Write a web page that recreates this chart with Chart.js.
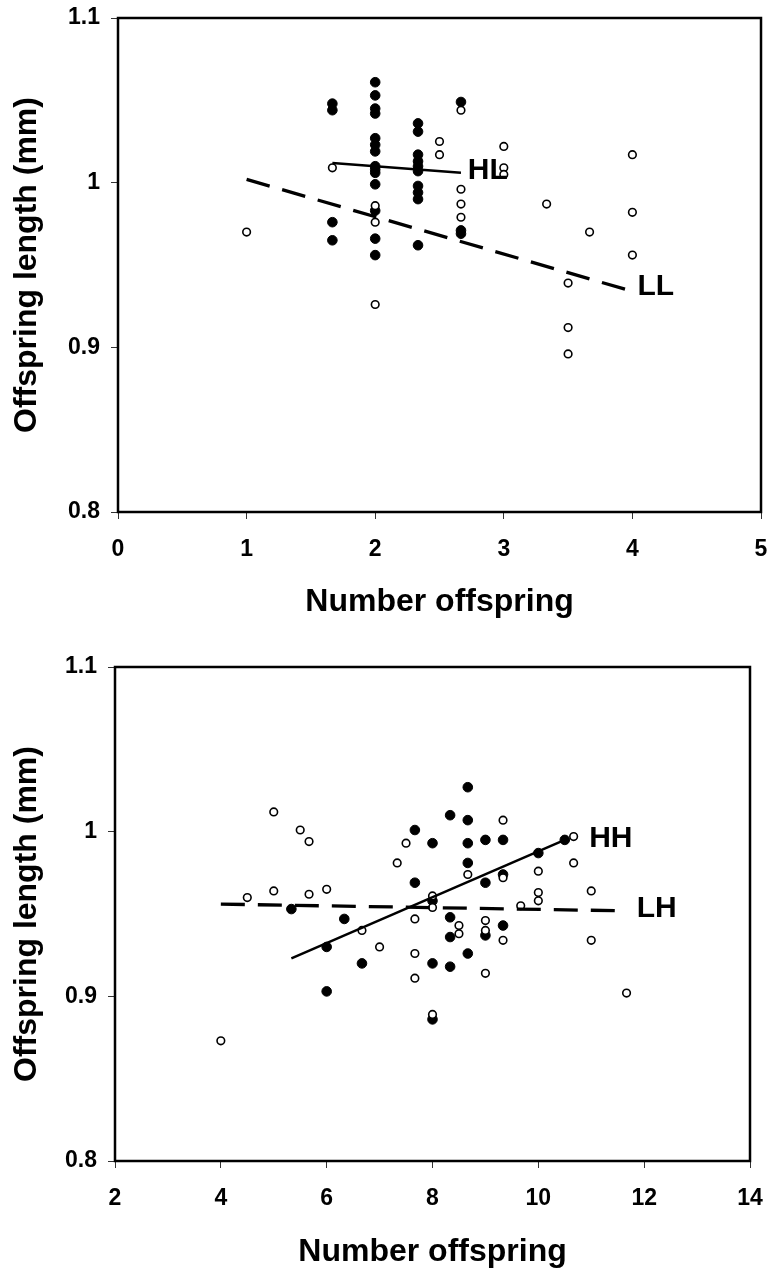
<!DOCTYPE html>
<html>
<head>
<meta charset="utf-8">
<script src="https://cdn.jsdelivr.net/npm/chart.js@4"></script>
<style>
  body { margin: 0; background: #fff; }
  canvas { display: block; }
</style>
</head>
<body>
<canvas id="chartTop" width="770" height="640"></canvas>
<canvas id="chartBottom" width="770" height="635"></canvas>
<script>
// top panel: LL (open circles) and HL (filled circles)
const llX = [1, 1.667, 2, 2, 2, 2.5, 2.5, 2.667, 2.667, 2.667, 2.667, 3, 3, 3, 3.333, 3.5, 3.5, 3.5, 3.667, 4, 4, 4];
const llY = [0.970, 1.009, 0.986, 0.976, 0.926, 1.025, 1.017, 1.044, 0.996, 0.987, 0.979, 1.022, 1.009, 1.005, 0.987, 0.939, 0.912, 0.896, 0.970, 1.017, 0.982, 0.956];

const hlX = [1.667, 1.667, 1.667, 1.667,
  2, 2, 2, 2, 2, 2, 2, 2, 2, 2, 2, 2, 2, 2,
  2.333, 2.333, 2.333, 2.333, 2.333, 2.333, 2.333, 2.333, 2.333, 2.333,
  2.667, 2.667, 2.667];
const hlY = [1.048, 1.044, 0.976, 0.965,
  1.061, 1.053, 1.045, 1.042, 1.027, 1.023, 1.019, 1.010, 1.008, 1.006, 0.999, 0.983, 0.966, 0.956,
  1.036, 1.031, 1.017, 1.013, 1.010, 1.007, 0.998, 0.994, 0.990, 0.962,
  1.049, 0.971, 0.969];

const hlFitX = [1.667, 2.667];
const hlFitY = [1.012, 1.006];
const llFitX = [1, 4];
const llFitY = [1.002, 0.934];

// bottom panel: LH (open circles) and HH (filled circles)
const lhX = [4, 4.5, 5, 5, 5.5, 5.667, 5.667, 6, 6.667, 7, 7.333, 7.5, 7.667, 7.667, 7.667, 8, 8, 8,
  8.5, 8.5, 8.667, 9, 9, 9, 9.333, 9.333, 9.333, 9.667, 10, 10, 10, 10.667, 10.667, 11, 11, 11.667];
const lhY = [0.873, 0.960, 1.012, 0.964, 1.001, 0.994, 0.962, 0.965, 0.940, 0.930, 0.981, 0.993, 0.947, 0.926, 0.911, 0.961, 0.954, 0.889,
  0.943, 0.938, 0.974, 0.946, 0.940, 0.914, 1.007, 0.972, 0.934, 0.955, 0.976, 0.963, 0.958, 0.997, 0.981, 0.964, 0.934, 0.902];

const hhX = [5.333, 6, 6, 6.333, 6.667, 7.667, 7.667, 8, 8, 8, 8, 8.333, 8.333, 8.333, 8.333,
  8.667, 8.667, 8.667, 8.667, 8.667, 9, 9, 9, 9.333, 9.333, 9.333, 10, 10.5];
const hhY = [0.953, 0.930, 0.903, 0.947, 0.920, 1.001, 0.969, 0.993, 0.958, 0.920, 0.886, 1.010, 0.948, 0.936, 0.918,
  1.027, 1.007, 0.993, 0.981, 0.926, 0.995, 0.969, 0.937, 0.995, 0.974, 0.943, 0.987, 0.995];

const hhFitX = [5.333, 10.5];
const hhFitY = [0.923, 0.995];
const lhFitX = [4, 11.5];
const lhFitY = [0.956, 0.952];

const FONT = "'Liberation Sans', Arial, sans-serif";

function pts(xs, ys) {
  return xs.map((x, i) => ({ x: x, y: ys[i] }));
}

// plot frame plus the series names next to the fitted lines
const framePlugin = {
  id: 'frame',
  beforeDatasetsDraw(chart) {
    const { ctx, chartArea: a } = chart;
    ctx.save();
    ctx.lineWidth = 2.5;
    ctx.strokeStyle = '#000';
    ctx.strokeRect(a.left, a.top, a.right - a.left, a.bottom - a.top);
    ctx.restore();
  },
  afterDatasetsDraw(chart, args, opts) {
    const { ctx, scales } = chart;
    ctx.save();
    ctx.font = 'bold 30px ' + FONT;
    ctx.fillStyle = '#000';
    ctx.textBaseline = 'middle';
    (opts.labels || []).forEach(l => {
      ctx.fillText(l.text, scales.x.getPixelForValue(l.x), scales.y.getPixelForValue(l.y));
    });
    ctx.restore();
  }
};

function makeChart(id, c) {
  new Chart(document.getElementById(id), {
    type: 'scatter',
    data: {
      datasets: [
        { data: pts(c.solidX, c.solidY), showLine: true, borderColor: '#000', borderWidth: 2.5, pointRadius: 0 },
        { data: pts(c.dashX, c.dashY), showLine: true, borderColor: '#000', borderWidth: 3.3, borderDash: [24, 13], pointRadius: 0 },
        { data: pts(c.openX, c.openY), pointRadius: 3.8, borderWidth: 1.6, borderColor: '#000', backgroundColor: '#fff' },
        { data: pts(c.fillX, c.fillY), pointRadius: 4.8, borderWidth: 1, borderColor: '#000', backgroundColor: '#000' }
      ]
    },
    options: {
      responsive: false,
      animation: false,
      events: [],
      layout: { padding: { top: c.padTop, right: c.padRight, left: 0, bottom: 0 } },
      plugins: {
        legend: { display: false },
        tooltip: { enabled: false },
        frame: { labels: c.labels }
      },
      scales: {
        x: {
          type: 'linear', min: c.xMin, max: c.xMax,
          ticks: { stepSize: c.xStep, color: '#000', padding: 17, font: { family: FONT, size: 23, weight: 'bold' } },
          grid: { drawOnChartArea: false, tickLength: 7, color: '#333' },
          border: { display: false },
          title: { display: true, text: 'Number offspring', color: '#000', padding: { top: 0, bottom: c.xTitlePad }, font: { family: FONT, size: 32, weight: 'bold' } },
          afterFit(s) { s.height = c.xAxisH; s.paddingLeft = 0; s.paddingRight = 0; }
        },
        y: {
          type: 'linear', min: 0.8, max: 1.1,
          ticks: { stepSize: 0.1, color: '#000', padding: 11, font: { family: FONT, size: 23, weight: 'bold' },
            callback: v => String(Number(v.toFixed(2))) },
          grid: { drawOnChartArea: false, tickLength: 7, color: '#333' },
          border: { display: false },
          title: { display: true, text: 'Offspring length (mm)', color: '#000', padding: { top: 8, bottom: 0 }, font: { family: FONT, size: 32, weight: 'bold' } },
          afterFit(s) { s.width = c.yAxisW; s.paddingTop = 0; s.paddingBottom = 0; }
        }
      }
    },
    plugins: [framePlugin]
  });
}

makeChart('chartTop', {
  solidX: hlFitX, solidY: hlFitY, dashX: llFitX, dashY: llFitY,
  openX: llX, openY: llY, fillX: hlX, fillY: hlY,
  xMin: 0, xMax: 5, xStep: 1,
  padTop: 18, padRight: 9, xAxisH: 128, yAxisW: 118, xTitlePad: 19,
  labels: [{ text: 'HL', x: 2.72, y: 1.007 }, { text: 'LL', x: 4.04, y: 0.937 }]
});

makeChart('chartBottom', {
  solidX: hhFitX, solidY: hhFitY, dashX: lhFitX, dashY: lhFitY,
  openX: lhX, openY: lhY, fillX: hhX, fillY: hhY,
  xMin: 2, xMax: 14, xStep: 2,
  padTop: 27, padRight: 20, xAxisH: 114, yAxisW: 115, xTitlePad: 4,
  labels: [{ text: 'HH', x: 10.96, y: 0.996 }, { text: 'LH', x: 11.86, y: 0.953 }]
});
</script>
</body>
</html>
